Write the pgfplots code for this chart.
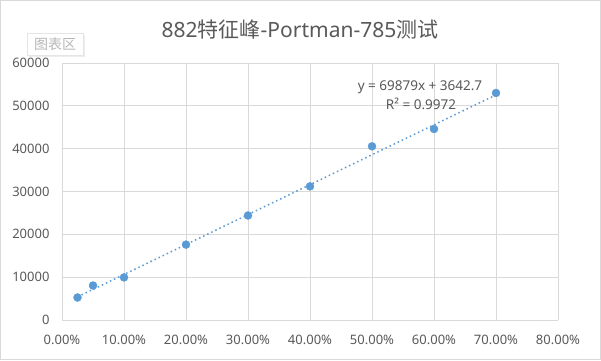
\documentclass[border=0pt]{standalone}
\usepackage{fontspec}
\setmainfont{Noto Sans}
\newfontfamily\cjk{Noto Sans CJK SC}
\usepackage{pgfplots}
\pgfplotsset{compat=1.18}
\definecolor{txt}{HTML}{595959}
\definecolor{grd}{HTML}{D9D9D9}
\definecolor{blu}{HTML}{5B9BD5}
\begin{document}
\begin{tikzpicture}[x=1pt,y=1pt]
\draw[grd, fill=white] (0.5,0.5) rectangle (600.5,359.5);
\useasboundingbox (0,0) rectangle (601,360);
\node[text=txt, font=\fontsize{21}{21}\selectfont] at (300,330) {882{\cjk 特征峰}-Portman-785{\cjk 测试}};
\fill[black!7] (28.5,303.5) rectangle (84.5,325.5);
\draw[black!10, fill=white] (27,305) rectangle (83,327);
\node[text=black!28, font=\cjk\fontsize{14}{14}\selectfont] at (55,316) {图表区};
\begin{axis}[at={(62pt,40pt)}, anchor=south west, scale only axis,
  width=496pt, height=257pt,
  xmin=0, xmax=0.8, ymin=0, ymax=60000,
  xtick={0,0.1,0.2,0.3,0.4,0.5,0.6,0.7,0.8},
  ytick={0,10000,20000,30000,40000,50000,60000},
  grid=major, major grid style={grd, line width=0.8pt},
  axis line style={draw=none}, tick style={draw=none},
  /pgf/number format/assume math mode=true,
  scaled ticks=false,
  ticklabel style={font=\fontsize{13}{13}\selectfont, text=txt},
  yticklabel style={/pgf/number format/1000 sep={}, xshift=-9pt},
  xticklabel={\pgfmathparse{100*\tick}\pgfmathprintnumber[fixed,fixed zerofill,precision=2]{\pgfmathresult}\%},
  xticklabel style={yshift=-12pt},
  clip=false]
\addplot[blu, line width=1.5pt, dash pattern=on 1.5pt off 3pt] coordinates {(0.025,5389.7) (0.7,52558)};
\addplot[only marks, mark=*, mark size=4pt, mark options={fill=blu, draw=blu}] coordinates {
(0.025,5250) (0.05,8050) (0.10,9950) (0.20,17600) (0.30,24400) (0.40,31200) (0.50,40550) (0.60,44600) (0.70,53000)};
\end{axis}
\node[text=txt, font=\fontsize{13.5}{13.5}\selectfont] at (420,273) {y = 69879x + 3642.7};
\node[text=txt, font=\fontsize{13.5}{13.5}\selectfont] at (421,256) {R² = 0.9972};
\end{tikzpicture}
\end{document}
